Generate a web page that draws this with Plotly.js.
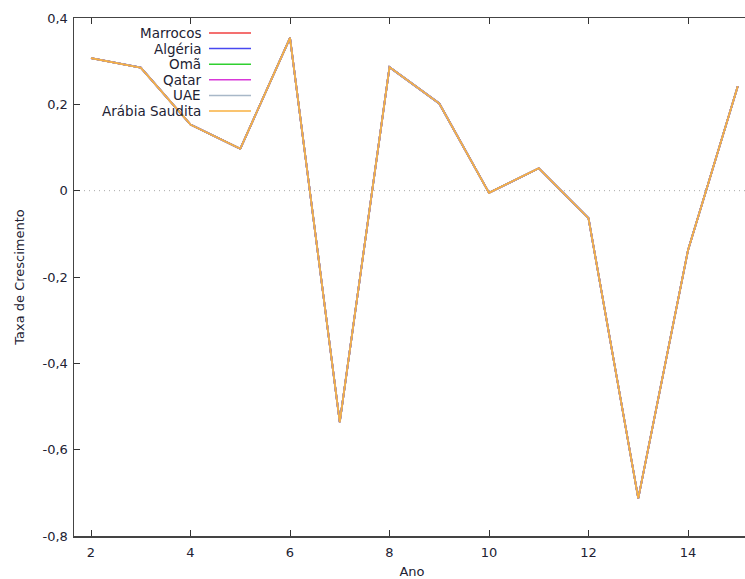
<!DOCTYPE html>
<html>
<head>
<meta charset="utf-8">
<script src="https://cdn.plot.ly/plotly-3.0.1.min.js"></script>
<style>
html, body { margin: 0; padding: 0; overflow: hidden; background: #fff; }
#chart { width: 750px; height: 579px; }
</style>
</head>
<body>
<div id="chart"></div>
<script>
// Data
const anos = [2, 3, 4, 5, 6, 7, 8, 9, 10, 11, 12, 13, 14, 15];
const marrocos      = [0.307, 0.285, 0.153, 0.097, 0.354, -0.536, 0.286, 0.202, -0.005, 0.052, -0.064, -0.713, -0.138, 0.242];
const algeria       = [0.307, 0.285, 0.153, 0.097, 0.354, -0.536, 0.286, 0.202, -0.005, 0.052, -0.064, -0.713, -0.138, 0.242];
const oma           = [0.307, 0.285, 0.153, 0.097, 0.354, -0.536, 0.286, 0.202, -0.005, 0.052, -0.064, -0.713, -0.138, 0.242];
const qatar         = [0.307, 0.285, 0.153, 0.097, 0.354, -0.536, 0.286, 0.202, -0.005, 0.052, -0.064, -0.713, -0.138, 0.242];
const uae           = [0.307, 0.285, 0.153, 0.097, 0.354, -0.536, 0.286, 0.202, -0.005, 0.052, -0.064, -0.713, -0.138, 0.242];
const arabiaSaudita = [0.307, 0.285, 0.153, 0.097, 0.354, -0.536, 0.286, 0.202, -0.005, 0.052, -0.064, -0.713, -0.138, 0.242];

const seriesNames  = ["Marrocos", "Algéria", "Omã", "Qatar", "UAE", "Arábia Saudita"];
const seriesValues = [marrocos, algeria, oma, qatar, uae, arabiaSaudita];
const seriesColors = ["#f04040", "#4848f0", "#30d030", "#d838d8", "#a8b8c8", "#f8b040"];

const xTickVals = [2, 4, 6, 8, 10, 12, 14];
const xTickText = ["2", "4", "6", "8", "10", "12", "14"];
const yTickVals = [0.4, 0.2, 0, -0.2, -0.4, -0.6, -0.8];
const yTickText = ["0,4", "0,2", "0", "-0,2", "-0,4", "-0,6", "-0,8"];

const FONT = "DejaVu Sans, Verdana, sans-serif";
const TXT = "#222233";
const FS = 13.5;
const TFS = 13;

const traces = seriesNames.map((name, i) => ({
  x: anos,
  y: seriesValues[i],
  type: "scatter",
  mode: "lines",
  name: name,
  line: { color: seriesColors[i], width: i === seriesNames.length - 1 ? 1.6 : 1.8 },
  showlegend: false,
  hoverinfo: "x+y+name"
}));

// Custom legend (text right of sample like gnuplot key)
const L = 74, R = 750, T = 18, B = 536;
const pw = R - L, ph = B - T;
const annotations = [];
const shapes = [];
seriesNames.forEach((name, i) => {
  const ypix = 33 + i * 15.6;
  const yp = (B - ypix) / ph;
  annotations.push({
    xref: "paper", yref: "paper",
    x: (203 - L) / pw, y: yp,
    xanchor: "right", yanchor: "middle",
    text: name, showarrow: false,
    font: { family: FONT, size: FS, color: TXT }
  });
  shapes.push({
    type: "line", xref: "paper", yref: "paper",
    x0: (209 - L) / pw, x1: (251 - L) / pw, y0: yp, y1: yp,
    line: { color: seriesColors[i], width: 1.5 }
  });
});
// dotted zero line
shapes.push({
  type: "line", xref: "paper", yref: "y",
  x0: 0, x1: 1, y0: 0, y1: 0,
  line: { color: "#a8a8a8", width: 1, dash: "1px,4px" },
  layer: "below"
});

const layout = {
  width: 750, height: 579,
  margin: { l: L, r: 750 - R, t: T, b: 579 - B, pad: 0 },
  paper_bgcolor: "#ffffff",
  plot_bgcolor: "#ffffff",
  font: { family: FONT, size: FS, color: TXT },
  showlegend: false,
  xaxis: {
    range: [1.658, 15.246],
    tickmode: "array", tickvals: xTickVals, ticktext: xTickText,
    ticks: "inside", ticklen: 6, tickwidth: 1, tickcolor: "#333",
    mirror: "ticks", showline: true, linecolor: "#444", linewidth: 1.5,
    showgrid: false, zeroline: false,
    ticklabelstandoff: 4,
    tickfont: { family: FONT, size: TFS, color: TXT },
    title: { text: "Ano", font: { family: FONT, size: TFS, color: TXT }, standoff: 20 }
  },
  yaxis: {
    range: [-0.8, 0.4],
    tickmode: "array", tickvals: yTickVals, ticktext: yTickText,
    ticks: "inside", ticklen: 6, tickwidth: 1, tickcolor: "#333",
    showline: true, linecolor: "#444", linewidth: 1.5,
    showgrid: false, zeroline: false,
    ticklabelstandoff: 2,
    tickfont: { family: FONT, size: TFS, color: TXT },
    title: { text: "Taxa de Crescimento", font: { family: FONT, size: TFS, color: TXT }, standoff: 15 }
  },
  annotations: annotations,
  shapes: shapes
};

Plotly.newPlot("chart", traces, layout, { displayModeBar: false, staticPlot: true });
</script>
</body>
</html>
